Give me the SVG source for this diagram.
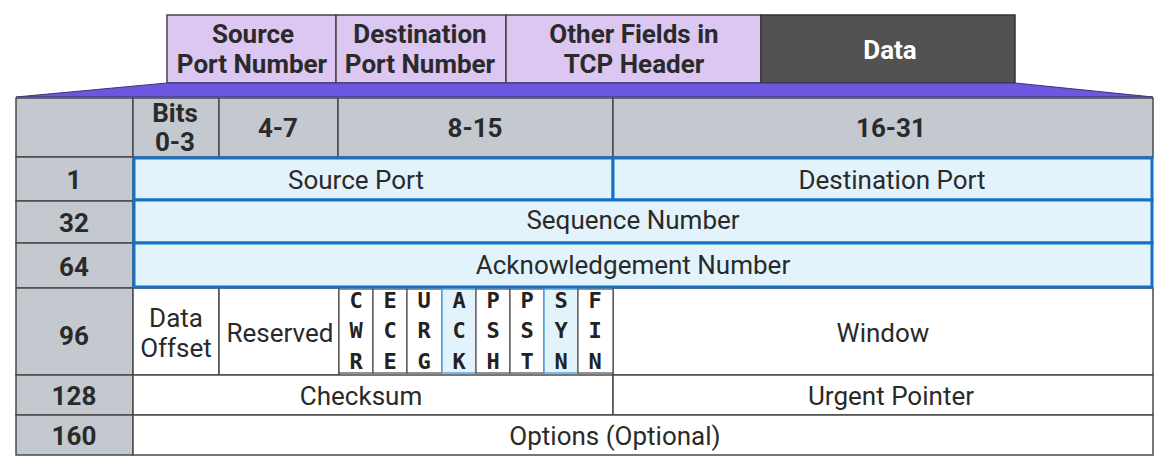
<svg xmlns="http://www.w3.org/2000/svg" width="1167" height="470" viewBox="0 0 1167 470">
<style>
.seg{fill:#dcc6f2;stroke:#444;stroke-width:1.5}
.data{fill:#525252;stroke:#333;stroke-width:1.5}
.gray{fill:#c4c8cf;stroke:#4a4a4a;stroke-width:1.5}
.white{fill:#ffffff;stroke:#4a4a4a;stroke-width:1.5}
.blue{fill:#e3f3fb;stroke:#1670c6;stroke-width:3}
.flagh{fill:#e3f3fb;stroke:#5aa0d8;stroke-width:1.5}
.flag{fill:#ffffff;stroke:#4a4a4a;stroke-width:1.2}
.tb{font-family:Roboto,"Liberation Sans",sans-serif;font-weight:bold;font-size:26px;fill:#2a2a2a;text-anchor:middle}
.tw{font-family:Roboto,"Liberation Sans",sans-serif;font-weight:bold;font-size:26px;fill:#ffffff;text-anchor:middle}
.t{font-family:Roboto,"Liberation Sans",sans-serif;font-size:26px;fill:#2a2a2a;text-anchor:middle}
.fl{font-family:"DejaVu Sans Mono","Liberation Mono",monospace;font-weight:bold;font-size:22px;fill:#222;text-anchor:middle}
</style>
<g id="segment">
<rect class="seg" x="167" y="15" width="169" height="68"/>
<rect class="seg" x="336" y="15" width="170" height="68"/>
<rect class="seg" x="506" y="15" width="255" height="68"/>
<rect class="data" x="761" y="15" width="254" height="68"/>
<text class="tb" x="253" y="43">Source</text>
<text class="tb" x="252" y="73">Port Number</text>
<text class="tb" x="420" y="43">Destination</text>
<text class="tb" x="420" y="73">Port Number</text>
<text class="tb" x="634" y="43">Other Fields in</text>
<text class="tb" x="634" y="73">TCP Header</text>
<text class="tw" x="890" y="59">Data</text>
</g>
<g id="connectors">
<polygon points="167,83 1015,83 1153,97 16,97" fill="#6b57e0" stroke="#3b3470" stroke-width="1"/>
</g>
<g id="header">
<rect class="gray" x="16" y="98" width="117" height="59"/>
<rect class="gray" x="133" y="98" width="86" height="59"/>
<rect class="gray" x="219" y="98" width="119" height="59"/>
<rect class="gray" x="338" y="98" width="275" height="59"/>
<rect class="gray" x="613" y="98" width="540" height="59"/>
<text class="tb" x="175" y="122">Bits</text>
<text class="tb" x="175" y="151">0-3</text>
<text class="tb" x="278" y="137">4-7</text>
<text class="tb" x="475" y="137">8-15</text>
<text class="tb" x="891" y="137">16-31</text>
</g>
<g id="rownums">
<rect class="gray" x="16" y="157" width="117" height="44"/>
<rect class="gray" x="16" y="201" width="117" height="42"/>
<rect class="gray" x="16" y="243" width="117" height="45"/>
<rect class="gray" x="16" y="288" width="117" height="87"/>
<rect class="gray" x="16" y="375" width="117" height="40"/>
<rect class="gray" x="16" y="415" width="117" height="40"/>
<text class="tb" x="74" y="189">1</text>
<text class="tb" x="74" y="232">32</text>
<text class="tb" x="74" y="276">64</text>
<text class="tb" x="74" y="345">96</text>
<text class="tb" x="74" y="405">128</text>
<text class="tb" x="74" y="445">160</text>
</g>
<g id="row96">
<rect class="white" x="133" y="288" width="86" height="87"/>
<rect class="white" x="219" y="288" width="120" height="87"/>
<rect class="white" x="613" y="288" width="540" height="87"/>
<text class="t" x="176" y="327">Data</text>
<text class="t" x="176" y="357">Offset</text>
<text class="t" x="280" y="342">Reserved</text>
<text class="t" x="883" y="342">Window</text>
</g>
<g id="flags">
<rect class="flag" x="339" y="289" width="34" height="84"/>
<rect class="flag" x="373" y="289" width="34" height="84"/>
<rect class="flag" x="407" y="289" width="35" height="84"/>
<rect class="flagh" x="442" y="289" width="34" height="84"/>
<rect class="flag" x="476" y="289" width="34" height="84"/>
<rect class="flag" x="510" y="289" width="34" height="84"/>
<rect class="flagh" x="544" y="289" width="34" height="84"/>
<rect class="flag" x="578" y="289" width="35" height="84"/>
<text class="fl" x="356" y="308">C</text><text class="fl" x="356" y="338">W</text><text class="fl" x="356" y="369">R</text>
<text class="fl" x="390" y="308">E</text><text class="fl" x="390" y="338">C</text><text class="fl" x="390" y="369">E</text>
<text class="fl" x="424" y="308">U</text><text class="fl" x="424" y="338">R</text><text class="fl" x="424" y="369">G</text>
<text class="fl" x="459" y="308">A</text><text class="fl" x="459" y="338">C</text><text class="fl" x="459" y="369">K</text>
<text class="fl" x="493" y="308">P</text><text class="fl" x="493" y="338">S</text><text class="fl" x="493" y="369">H</text>
<text class="fl" x="527" y="308">P</text><text class="fl" x="527" y="338">S</text><text class="fl" x="527" y="369">T</text>
<text class="fl" x="561" y="308">S</text><text class="fl" x="561" y="338">Y</text><text class="fl" x="561" y="369">N</text>
<text class="fl" x="595" y="308">F</text><text class="fl" x="595" y="338">I</text><text class="fl" x="595" y="369">N</text>
</g>
<g id="row128">
<rect class="white" x="133" y="375" width="480" height="40"/>
<rect class="white" x="613" y="375" width="540" height="40"/>
<text class="t" x="361" y="405">Checksum</text>
<text class="t" x="891" y="405">Urgent Pointer</text>
</g>
<g id="row160">
<rect class="white" x="133" y="415" width="1020" height="40"/>
<text class="t" x="615" y="445">Options (Optional)</text>
</g>
<g id="bluerows">
<rect class="blue" x="134" y="158" width="479" height="42"/>
<rect class="blue" x="613" y="158" width="539" height="42"/>
<rect class="blue" x="134" y="200" width="1018" height="43"/>
<rect class="blue" x="134" y="243" width="1018" height="44"/>
<text class="t" x="356" y="189">Source Port</text>
<text class="t" x="892" y="189">Destination Port</text>
<text class="t" x="633" y="229">Sequence Number</text>
<text class="t" x="633" y="274">Acknowledgement Number</text>
</g>
</svg>
